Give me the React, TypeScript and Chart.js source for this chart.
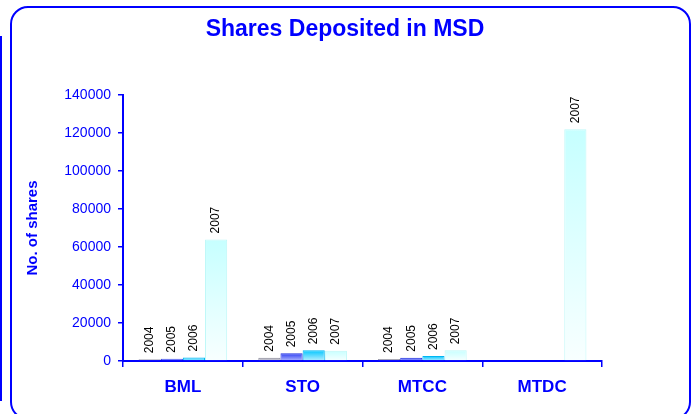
import React, { useEffect, useRef } from "react";
import { Chart, registerables } from "chart.js";

Chart.register(...registerables);

const chartTitle = "Shares Deposited in MSD";
const yAxisTitle = "No. of shares";
const categories = ["BML", "STO", "MTCC", "MTDC"];
const seriesLabels = ["2004", "2005", "2006", "2007"];
const values2004 = [900, 1750, 1050, null];
const values2005 = [1200, 4050, 1750, null];
const values2006 = [1900, 5630, 2630, null];
const values2007 = [64000, 5460, 5600, 122000];
const yMax = 140000;
const yStep = 20000;

const palette = [
  { top: "#9c9cac", bottom: "#dcdce4", border: "#8c8c9c" },
  { top: "#2a3af2", bottom: "#b4bcff", border: "#2030e0" },
  { top: "#00c6ff", bottom: "#bcefff", border: "#00b6f2" },
  { top: "#c6ffff", bottom: "#f8ffff", border: "#bff8f8" },
];

const BLUE = "#0000ff";
const FONT = '"Liberation Sans", Arial, sans-serif';

const titlePlugin = {
  id: "customTitle",
  afterDraw(chart: any) {
    const ctx = chart.ctx;
    ctx.save();
    ctx.font = `bold 23px ${FONT}`;
    ctx.fillStyle = BLUE;
    ctx.textAlign = "center";
    ctx.textBaseline = "alphabetic";
    ctx.fillText(chartTitle, 345, 36);
    ctx.restore();
  },
};

const barLabels = {
  id: "barLabels",
  afterDatasetsDraw(chart: any) {
    const ctx = chart.ctx;
    chart.data.datasets.forEach((ds: any, i: number) => {
      const meta = chart.getDatasetMeta(i);
      meta.data.forEach((bar: any, j: number) => {
        const v = ds.data[j];
        if (v == null) return;
        ctx.save();
        ctx.translate(bar.x, bar.y - 6);
        ctx.rotate(-Math.PI / 2);
        ctx.font = `12px ${FONT}`;
        ctx.fillStyle = "#000000";
        ctx.textAlign = "left";
        ctx.textBaseline = "middle";
        ctx.fillText(ds.label, 0, 0);
        ctx.restore();
      });
    });
  },
};

function makeGradient(idx: number) {
  const p = palette[idx];
  return (c: any) => {
    const chart = c.chart;
    if (!chart.chartArea || c.type !== "data") return p.top;
    const v = c.raw;
    if (v == null) return p.top;
    const ys = chart.scales.y;
    const yTop = ys.getPixelForValue(v);
    const yBot = ys.getPixelForValue(0);
    if (!isFinite(yTop) || !isFinite(yBot) || yBot - yTop < 1) return p.top;
    const g = chart.ctx.createLinearGradient(0, yTop, 0, yBot);
    g.addColorStop(0, p.top);
    g.addColorStop(1, p.bottom);
    return g;
  };
}

export default function App() {
  const ref = useRef<HTMLCanvasElement>(null);
  useEffect(() => {
    if (!ref.current) return;
    const seriesValues = [values2004, values2005, values2006, values2007];
    const chart = new Chart(ref.current, {
      type: "bar",
      data: {
        labels: categories,
        datasets: seriesLabels.map((label, i) => ({
          label,
          data: seriesValues[i],
          backgroundColor: makeGradient(i),
          borderColor: palette[i].border,
          borderWidth: 1,
          categoryPercentage: 0.74,
          barPercentage: 1,
        })),
      },
      options: {
        responsive: false,
        animation: false,
        layout: { padding: { left: 0, right: 97, top: 95, bottom: 0 } },
        plugins: {
          legend: { display: false },
          tooltip: { enabled: false },
          title: { display: false },
        },
        scales: {
          x: {
            afterFit: (s: any) => {
              s.height = 53;
            },
            border: { color: BLUE, width: 2 },
            grid: {
              offset: true,
              drawOnChartArea: false,
              drawTicks: true,
              tickLength: 6,
              color: BLUE,
              lineWidth: 1.5,
            },
            ticks: {
              color: BLUE,
              font: { family: FONT, size: 17, weight: "bold" },
              padding: 10,
            },
          },
          y: {
            min: 0,
            max: yMax,
            afterFit: (s: any) => {
              s.width = 123;
            },
            border: { color: BLUE, width: 2 },
            grid: {
              drawOnChartArea: false,
              drawTicks: true,
              tickLength: 5,
              color: BLUE,
              lineWidth: 1.5,
            },
            ticks: {
              stepSize: yStep,
              color: BLUE,
              font: { family: FONT, size: 14 },
              padding: 7,
              callback: (v: any) => String(v),
            },
            title: {
              display: true,
              text: yAxisTitle,
              color: BLUE,
              font: { family: FONT, size: 15, weight: "bold" },
              padding: { top: 24, bottom: 0 },
            },
          },
        },
      },
      plugins: [barLabels, titlePlugin],
    });
    return () => chart.destroy();
  }, []);

  return (
    <div
      style={{
        position: "fixed",
        left: 0,
        top: 0,
        width: 699,
        height: 414,
        background: "#ffffff",
        overflow: "hidden",
      }}
    >
      <div
        style={{
          position: "absolute",
          left: 0,
          top: 36,
          width: 2,
          height: 365,
          background: BLUE,
        }}
      />
      <div
        style={{
          position: "absolute",
          left: 10,
          top: 6,
          width: 681,
          height: 414,
          border: `2px solid ${BLUE}`,
          borderRadius: 18,
          boxSizing: "border-box",
        }}
      />
      <canvas
        ref={ref}
        width={699}
        height={414}
        style={{ position: "absolute", left: 0, top: 0, width: 699, height: 414, display: "block" }}
      />
    </div>
  );
}
